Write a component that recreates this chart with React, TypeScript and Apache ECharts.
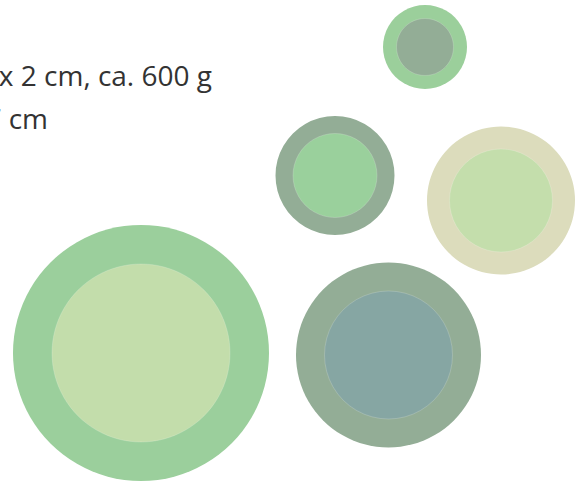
import React, { useEffect, useRef } from "react";
import * as echarts from "echarts";

// Bubble centres (x from left, y from top, in chart units) and diameters
const circleX = [425, 335, 501, 141, 388.5];
const circleY = [47, 175.5, 200.5, 353, 355];
const outerValue = [84, 119, 148, 256, 185];
const innerValue = [57, 84, 103, 178, 128];

const textLines = ["x 2 cm, ca. 600 g", "7 cm"];

const outerColors = ["#9bcf9b", "#93ad96", "#dcdcbc", "#9bcf9c", "#93ad96"];
const innerColors = ["#93ad96", "#9ad09c", "#c4deac", "#c3ddab", "#86a6a3"];

export default function App() {
  const ref = useRef<HTMLDivElement>(null);
  useEffect(() => {
    if (!ref.current) return;
    const chart = echarts.init(ref.current, null, { renderer: "svg" });
    const outerData = circleX.map((x, i) => ({
      value: [x, circleY[i], outerValue[i]],
      itemStyle: { color: outerColors[i] },
    }));
    const innerData = circleX.map((x, i) => ({
      value: [x, circleY[i], innerValue[i]],
      itemStyle: { color: innerColors[i] },
    }));
    chart.setOption({
      animation: false,
      backgroundColor: "#ffffff",
      grid: { left: 0, right: 0, top: 0, bottom: 0 },
      xAxis: { type: "value", min: 0, max: 581, show: false },
      yAxis: { type: "value", min: 0, max: 481, inverse: true, show: false },
      series: [
        {
          type: "scatter",
          data: outerData,
          symbol: "circle",
          symbolSize: (v: number[]) => v[2],
          itemStyle: { opacity: 1 },
          silent: true,
        },
        {
          type: "scatter",
          data: innerData,
          symbol: "circle",
          symbolSize: (v: number[]) => v[2],
          itemStyle: {
            opacity: 1,
            borderColor: "rgba(255,255,255,0.3)",
            borderWidth: 0.6,
          },
          silent: true,
        },
      ],
      graphic: [
        {
          type: "text",
          x: 212,
          y: 75,
          style: {
            text: textLines[0],
            fill: "#333333",
            font: "28px 'Open Sans'",
            textAlign: "right",
            textVerticalAlign: "middle",
          },
        },
        {
          type: "text",
          x: 48,
          y: 118,
          style: {
            text: textLines[1],
            fill: "#333333",
            font: "28px 'Open Sans'",
            textAlign: "right",
            textVerticalAlign: "middle",
          },
        },
      ],
    });
    return () => chart.dispose();
  }, []);
  return (
    <div
      ref={ref}
      style={{ position: "fixed", left: 0, top: 0, width: 581, height: 481 }}
    />
  );
}
